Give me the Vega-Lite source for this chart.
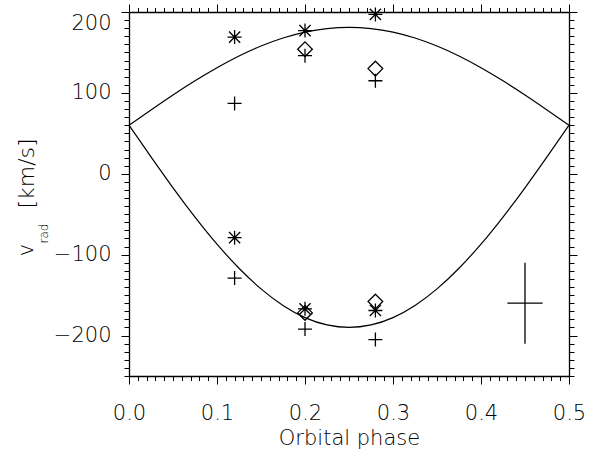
{
  "$schema": "https://vega.github.io/schema/vega-lite/v6.json",
  "width": 440,
  "height": 364,
  "autosize": {"type": "none"},
  "padding": {"left": 129, "top": 12, "right": 44, "bottom": 77},
  "background": "white",
  "config": {
    "view": {"stroke": null},
    "axis": {
      "grid": false,
      "domainColor": "black",
      "domainWidth": 1.3,
      "tickColor": "black",
      "tickWidth": 1,
      "labelColor": "black",
      "titleColor": "black",
      "labelFont": "DejaVu Sans",
      "titleFont": "DejaVu Sans",
      "labelFontWeight": 200,
      "titleFontWeight": 200
    }
  },
  "datasets": {
    "curves": [
      {"component": "primary", "phase": 0, "v": 60},
      {"component": "primary", "phase": 0.025, "v": 78.9},
      {"component": "primary", "phase": 0.05, "v": 97.4},
      {"component": "primary", "phase": 0.075, "v": 114.9},
      {"component": "primary", "phase": 0.1, "v": 131.1},
      {"component": "primary", "phase": 0.125, "v": 145.6},
      {"component": "primary", "phase": 0.15, "v": 157.9},
      {"component": "primary", "phase": 0.175, "v": 167.8},
      {"component": "primary", "phase": 0.2, "v": 175.1},
      {"component": "primary", "phase": 0.225, "v": 179.5},
      {"component": "primary", "phase": 0.25, "v": 181},
      {"component": "primary", "phase": 0.275, "v": 179.5},
      {"component": "primary", "phase": 0.3, "v": 175.1},
      {"component": "primary", "phase": 0.325, "v": 167.8},
      {"component": "primary", "phase": 0.35, "v": 157.9},
      {"component": "primary", "phase": 0.375, "v": 145.6},
      {"component": "primary", "phase": 0.4, "v": 131.1},
      {"component": "primary", "phase": 0.425, "v": 114.9},
      {"component": "primary", "phase": 0.45, "v": 97.4},
      {"component": "primary", "phase": 0.475, "v": 78.9},
      {"component": "primary", "phase": 0.5, "v": 60},
      {"component": "secondary", "phase": 0, "v": 60},
      {"component": "secondary", "phase": 0.025, "v": 20.9},
      {"component": "secondary", "phase": 0.05, "v": -17.3},
      {"component": "secondary", "phase": 0.075, "v": -53.5},
      {"component": "secondary", "phase": 0.1, "v": -87},
      {"component": "secondary", "phase": 0.125, "v": -116.8},
      {"component": "secondary", "phase": 0.15, "v": -142.3},
      {"component": "secondary", "phase": 0.175, "v": -162.8},
      {"component": "secondary", "phase": 0.2, "v": -177.8},
      {"component": "secondary", "phase": 0.225, "v": -186.9},
      {"component": "secondary", "phase": 0.25, "v": -190},
      {"component": "secondary", "phase": 0.275, "v": -186.9},
      {"component": "secondary", "phase": 0.3, "v": -177.8},
      {"component": "secondary", "phase": 0.325, "v": -162.8},
      {"component": "secondary", "phase": 0.35, "v": -142.3},
      {"component": "secondary", "phase": 0.375, "v": -116.8},
      {"component": "secondary", "phase": 0.4, "v": -87},
      {"component": "secondary", "phase": 0.425, "v": -53.5},
      {"component": "secondary", "phase": 0.45, "v": -17.3},
      {"component": "secondary", "phase": 0.475, "v": 20.9},
      {"component": "secondary", "phase": 0.5, "v": 60}
    ],
    "obs": [
      {"series": "S1", "phase": 0.12, "v": 169},
      {"series": "S1", "phase": 0.12, "v": -79},
      {"series": "S1", "phase": 0.2, "v": 177},
      {"series": "S1", "phase": 0.2, "v": -167},
      {"series": "S1", "phase": 0.28, "v": 197},
      {"series": "S1", "phase": 0.28, "v": -169},
      {"series": "S2", "phase": 0.2, "v": 154},
      {"series": "S2", "phase": 0.2, "v": -172},
      {"series": "S2", "phase": 0.28, "v": 130},
      {"series": "S2", "phase": 0.28, "v": -158},
      {"series": "S3", "phase": 0.12, "v": 87},
      {"series": "S3", "phase": 0.12, "v": -129},
      {"series": "S3", "phase": 0.2, "v": 146},
      {"series": "S3", "phase": 0.2, "v": -192},
      {"series": "S3", "phase": 0.28, "v": 115},
      {"series": "S3", "phase": 0.28, "v": -205}
    ],
    "err": [
      {"phase": 0.45, "v": -160, "vlo": -210, "vhi": -110, "plo": 0.43, "phi": 0.47}
    ]
  },
  "layer": [
    {
      "data": {"name": "curves"},
      "mark": {"type": "line", "color": "black", "strokeWidth": 1.2, "interpolate": "natural"},
      "encoding": {
        "x": {
          "field": "phase", "type": "quantitative",
          "scale": {"domain": [0, 0.5], "nice": false, "zero": false},
          "axis": {
            "orient": "bottom",
            "values": [0,0.01,0.02,0.03,0.04,0.05,0.06,0.07,0.08,0.09,0.1,0.11,0.12,0.13,0.14,0.15,0.16,0.17,0.18,0.19,0.2,0.21,0.22,0.23,0.24,0.25,0.26,0.27,0.28,0.29,0.3,0.31,0.32,0.33,0.34,0.35,0.36,0.37,0.38,0.39,0.4,0.41,0.42,0.43,0.44,0.45,0.46,0.47,0.48,0.49,0.5],
            "format": ".1f",
            "labelExpr": "round(datum.value*100) % 10 === 0 ? datum.label : ''",
            "tickSize": {"condition": {"test": "round(datum.value*100) % 10 === 0", "value": 8}, "value": 4.5},
            "labelPadding": 18,
            "labelFontSize": 21,
            "labelFlush": false,
            "labelOverlap": false,
            "labelBound": false,
            "title": "Orbital phase",
            "titleFontSize": 21,
            "titlePadding": 4
          }
        },
        "y": {
          "field": "v", "type": "quantitative",
          "scale": {"domain": [-250, 200], "nice": false, "zero": false},
          "axis": {
            "orient": "left",
            "values": [-250,-240,-230,-220,-210,-200,-190,-180,-170,-160,-150,-140,-130,-120,-110,-100,-90,-80,-70,-60,-50,-40,-30,-20,-10,0,10,20,30,40,50,60,70,80,90,100,110,120,130,140,150,160,170,180,190,200],
            "format": "d",
            "labelExpr": "datum.value % 100 === 0 ? datum.label : ''",
            "tickSize": {"condition": {"test": "datum.value % 100 === 0", "value": 8}, "value": 5},
            "labelPadding": 10,
            "labelFontSize": 21,
            "labelFlush": true,
            "labelOverlap": false,
            "labelBound": false,
            "title": "[km/s]",
            "titleFontSize": 22,
            "titleAngle": 270,
            "titleAlign": "center",
            "titleBaseline": "alphabetic",
            "titleX": -96,
            "titleY": 161
          }
        },
        "detail": {"field": "component"}
      }
    },
    {
      "data": {"name": "obs"},
      "mark": {"type": "point", "filled": false, "color": "black", "strokeWidth": 1.3, "size": 196, "opacity": 1},
      "encoding": {
        "x": {
          "field": "phase", "type": "quantitative",
          "scale": {"domain": [0, 0.5], "nice": false, "zero": false},
          "axis": {
            "orient": "top",
            "values": [0,0.01,0.02,0.03,0.04,0.05,0.06,0.07,0.08,0.09,0.1,0.11,0.12,0.13,0.14,0.15,0.16,0.17,0.18,0.19,0.2,0.21,0.22,0.23,0.24,0.25,0.26,0.27,0.28,0.29,0.3,0.31,0.32,0.33,0.34,0.35,0.36,0.37,0.38,0.39,0.4,0.41,0.42,0.43,0.44,0.45,0.46,0.47,0.48,0.49,0.5],
            "labels": false,
            "title": null,
            "tickSize": {"condition": {"test": "round(datum.value*100) % 10 === 0", "value": 8}, "value": 4.5}
          }
        },
        "y": {
          "field": "v", "type": "quantitative",
          "scale": {"domain": [-250, 200], "nice": false, "zero": false},
          "axis": {
            "orient": "right",
            "values": [-250,-240,-230,-220,-210,-200,-190,-180,-170,-160,-150,-140,-130,-120,-110,-100,-90,-80,-70,-60,-50,-40,-30,-20,-10,0,10,20,30,40,50,60,70,80,90,100,110,120,130,140,150,160,170,180,190,200],
            "labels": false,
            "title": null,
            "tickSize": {"condition": {"test": "datum.value % 100 === 0", "value": 8}, "value": 5}
          }
        },
        "shape": {
          "field": "series", "type": "nominal",
          "scale": {
            "domain": ["S1", "S2", "S3"],
            "range": [
              "M-1,0L1,0M0,-1L0,1M-0.8,-0.8L0.8,0.8M-0.8,0.8L0.8,-0.8",
              "M0,-1.05L1.05,0L0,1.05L-1.05,0Z",
              "M-1,0L1,0M0,-1L0,1"
            ]
          },
          "legend": null
        }
      }
    },
    {
      "data": {"name": "err"},
      "mark": {"type": "rule", "color": "black", "strokeWidth": 1.3},
      "encoding": {
        "x": {"field": "phase", "type": "quantitative", "scale": {"domain": [0, 0.5], "nice": false, "zero": false}, "axis": null},
        "y": {
          "field": "vlo", "type": "quantitative",
          "scale": {"domain": [-250, 200], "nice": false, "zero": false},
          "axis": {
            "orient": "left", "labels": false, "ticks": false, "domain": false,
            "title": "v", "titleFontSize": 21, "titleAngle": 270, "titleAlign": "center",
            "titleBaseline": "alphabetic", "titleX": -97, "titleY": 237.5
          }
        },
        "y2": {"field": "vhi"}
      }
    },
    {
      "data": {"name": "err"},
      "mark": {"type": "rule", "color": "black", "strokeWidth": 1.3},
      "encoding": {
        "x": {"field": "plo", "type": "quantitative", "scale": {"domain": [0, 0.5], "nice": false, "zero": false}, "axis": null},
        "x2": {"field": "phi"},
        "y": {
          "field": "v", "type": "quantitative",
          "scale": {"domain": [-250, 200], "nice": false, "zero": false},
          "axis": {
            "orient": "left", "labels": false, "ticks": false, "domain": false,
            "title": "rad", "titleFontSize": 12, "titleAngle": 270, "titleAlign": "center",
            "titleBaseline": "alphabetic", "titleX": -82, "titleY": 221
          }
        }
      }
    }
  ],
  "resolve": {"scale": {"x": "independent", "y": "independent"}}
}
